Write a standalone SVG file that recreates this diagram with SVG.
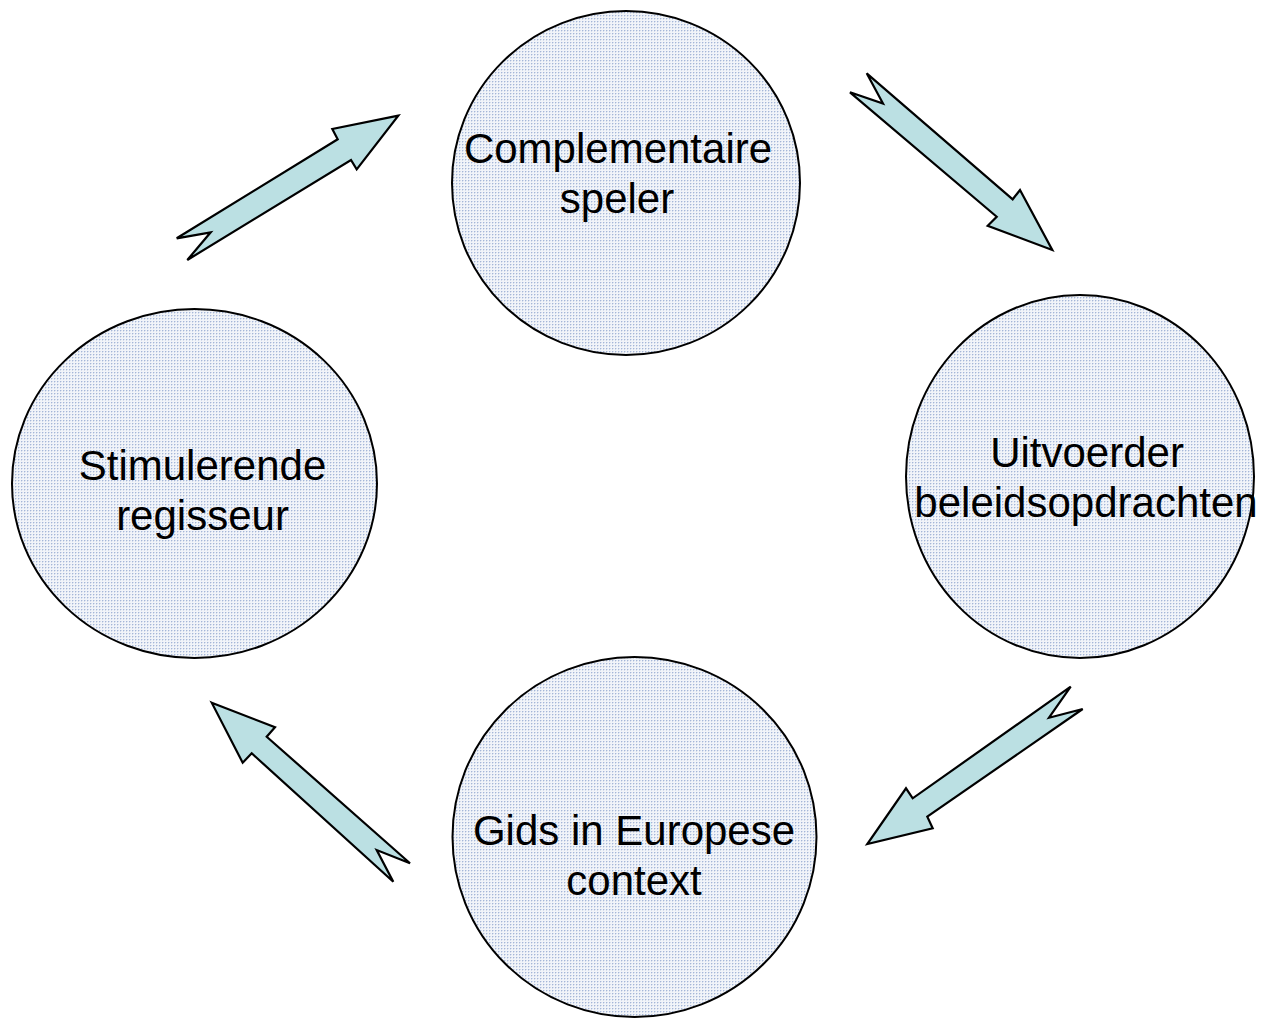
<svg xmlns="http://www.w3.org/2000/svg" width="1265" height="1018" viewBox="0 0 1265 1018">
<style>
.node ellipse{fill:url(#dots);stroke:#000;stroke-width:2}
.node text{font-family:"Liberation Sans",Arial,sans-serif;font-size:42px;fill:#000;text-anchor:middle}
.arrow{fill:#bbe0e3;stroke:#000;stroke-width:2.2;stroke-linejoin:miter}
</style>
<defs>
<pattern id="dots" width="3" height="3" patternUnits="userSpaceOnUse">
<rect width="3" height="3" fill="#f1f4f9"/>
<rect x="0" y="0" width="1" height="1" fill="#a4b6d8"/>
<rect x="1" y="0" width="1" height="1" fill="#d5ddec"/>
<rect x="0" y="1" width="1" height="1" fill="#d5ddec"/>
</pattern>
</defs>
<rect width="1265" height="1018" fill="#fff"/>
<g id="connectors">
<polygon class="arrow" points="866.7,73.3 883,103.5 850,92.3 996.7,216.7 987.7,225.7 1052.3,250 1020,190 1012.7,199.3"/>
<polygon class="arrow" points="398.3,115.7 332.3,129 337.7,139.3 176.7,238.3 210.7,232.3 187.3,260 351,160 356.7,169.3"/>
<polygon class="arrow" points="1070.7,686.7 1049,717.7 1082.7,709 927.3,816.7 932.7,828.3 867.3,844 906,788.3 912.7,798.3"/>
<polygon class="arrow" points="211.7,702.7 275,727.3 266.7,736.7 410,863.3 376.7,850 393.3,881.7 251.7,753.3 242.7,762.7"/>
</g>
<g id="node-complementaire" class="node">
<ellipse cx="626" cy="183" rx="174" ry="172"/>
<text x="618" y="163">Complementaire</text>
<text x="617" y="213">speler</text>
</g>
<g id="node-uitvoerder" class="node">
<ellipse cx="1080" cy="476.5" rx="174" ry="181.5"/>
<text x="1087" y="467">Uitvoerder</text>
<text x="1086" y="517">beleidsopdrachten</text>
</g>
<g id="node-gids" class="node">
<ellipse cx="634.5" cy="837" rx="182" ry="180"/>
<text x="634" y="845">Gids in Europese</text>
<text x="634" y="895">context</text>
</g>
<g id="node-stimulerende" class="node">
<ellipse cx="194.5" cy="483.5" rx="182.5" ry="174.5"/>
<text x="202.5" y="480">Stimulerende</text>
<text x="202.5" y="530">regisseur</text>
</g>
</svg>
